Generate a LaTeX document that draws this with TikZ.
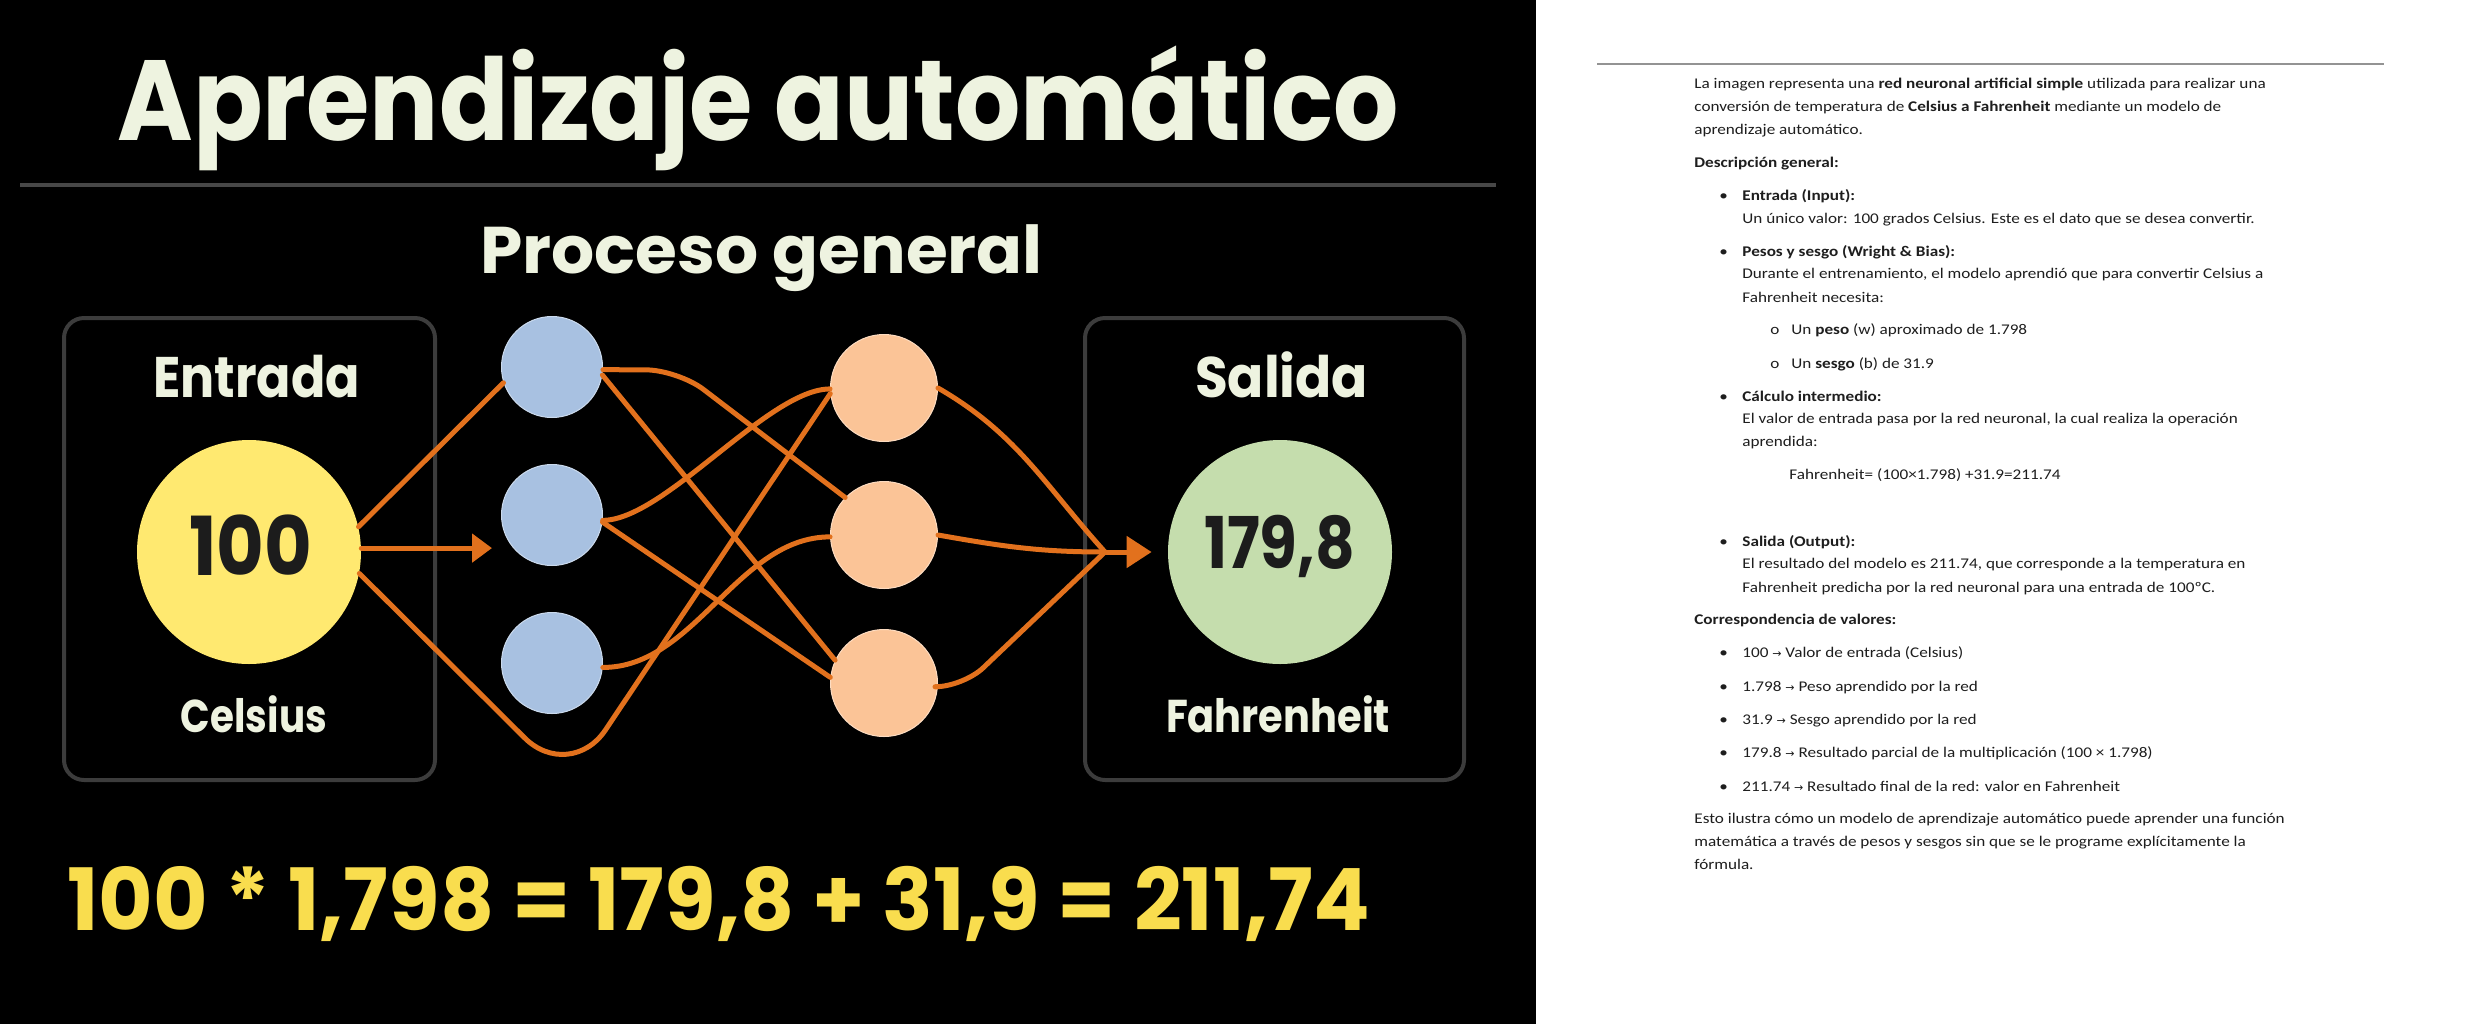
\documentclass[tikz,border=0pt]{standalone}
\usepackage{fontspec}
\usepackage{graphicx}
\setmainfont{Carlito}[FakeStretch=1.16]
\newfontfamily\pop{Poppins}
\newfontfamily\arrfont{DejaVu Sans}
\usetikzlibrary{arrows.meta}
\definecolor{titlec}{HTML}{EEF3E0}
\definecolor{sepc}{HTML}{474747}
\definecolor{boxc}{HTML}{3C3C3C}
\definecolor{yellowc}{HTML}{FFE970}
\definecolor{bluec}{HTML}{A8C1E1}
\definecolor{peachc}{HTML}{FBC497}
\definecolor{greenc}{HTML}{C5DDAD}
\definecolor{wirec}{HTML}{E2711D}
\definecolor{eqc}{HTML}{F9DD4E}
\definecolor{numc}{HTML}{1C1C1C}
\definecolor{bodyc}{HTML}{1E1E1E}
\newcommand{\fitw}[2]{\resizebox{#1}{\height}{#2}}
\newcommand{\ar}{{\arrfont\fontsize{5.5}{6}\selectfont →}}
\begin{document}
\begin{tikzpicture}[x=0.5pt,y=-0.5pt,
  wire/.style={draw=wirec, line width=2.5pt, line cap=round, line join=round},
  neuronb/.style={circle, fill=bluec, draw=bluec!60!white, line width=0.5pt, minimum size=50.5pt, inner sep=0},
  neurono/.style={circle, fill=peachc, draw=peachc!60!white, line width=0.5pt, minimum size=53.5pt, inner sep=0},
  bigc/.style={circle, minimum size=112pt, inner sep=0},
  panel/.style={draw=boxc, line width=2pt, rounded corners=10pt},
  ttl/.style={text=titlec, inner sep=0, anchor=base},
  body/.style={anchor=base west, inner sep=0, text=bodyc, font=\fontsize{7.4}{8}\selectfont}
]
\useasboundingbox (0,0) rectangle (2470,1024);
% backgrounds
\fill[black] (0,0) rectangle (1536,1024);
\fill[white] (1536,0) rectangle (2470,1024);

% title and rule
\node[ttl, font=\pop\bfseries\fontsize{57}{60}\selectfont] (title) at (758,140) {\fitw{640.5pt}{Aprendizaje automático}};
\draw[sepc, line width=2.4pt] (20,185) -- (1496,185);
\node[ttl, font=\pop\bfseries\fontsize{33}{36}\selectfont] (sub) at (761.5,273) {\fitw{281.5pt}{Proceso general}};

% panels
\draw[panel] (64,318) rectangle (435,780);
\draw[panel] (1085,318) rectangle (1464,780);

\node[ttl, font=\pop\bfseries\fontsize{28.6}{30}\selectfont] (entrada) at (256.5,397) {\fitw{103.5pt}{Entrada}};
\node[ttl, font=\pop\bfseries\fontsize{28.6}{30}\selectfont] (salida) at (1281.5,397) {\fitw{86.5pt}{Salida}};
\node[ttl, font=\pop\bfseries\fontsize{23}{25}\selectfont] (celsius) at (254,732) {\fitw{73pt}{Celsius}};
\node[ttl, font=\pop\bfseries\fontsize{23}{25}\selectfont] (fahr) at (1278,732) {\fitw{112pt}{Fahrenheit}};

% big circles
\node[bigc, fill=yellowc] (in) at (249,552) {};
\node[bigc, fill=greenc] (out) at (1280,552) {};
\node[ttl, text=numc, font=\pop\bfseries\fontsize{40.7}{42}\selectfont] (v100) at (250.5,575) {\fitw{61.5pt}{100}};
\node[ttl, text=numc, font=\pop\bfseries\fontsize{35.7}{38}\selectfont] (v179) at (1279.5,568) {\fitw{75.5pt}{179,8}};

% neurons
\node[neuronb] (b1) at (552,367) {};
\node[neuronb] (b2) at (552,515) {};
\node[neuronb] (b3) at (552,663) {};
\node[neurono] (o1) at (884,388) {};
\node[neurono] (o2) at (884,535) {};
\node[neurono] (o3) at (884,683) {};

\coordinate (loopc) at (570,783);
\coordinate (k1) at (678,370);
\coordinate (k3) at (963,687);
\coordinate (M) at (1105,552);

% input connectors
\draw[wire] (in.13) -- (b1.198);
\draw[wire, -{Triangle[length=10pt,width=14pt]}, shorten >=4.5pt] (in.2) -- (in.2 -| b2.west);
\draw[wire, rounded corners=32pt] (in.349) -- (loopc) -- (o1.186);

% hidden connectors
\draw[wire, rounded corners=16pt] (b1.357) -- (k1) -- (o2.136);
\draw[wire] (b1.351) -- (o3.155);
\draw[wire] (b2.354) to[out=0, in=180, looseness=0.6] (o1.181);
\draw[wire] (b2.352) -- (o3.174);
\draw[wire] (b3.355) to[out=0, in=180, looseness=0.9] (o2.182);

% output connectors
\draw[wire] (o1.east) to[out=-30, in=132] (M);
\draw[wire] (o2.east) to[out=-10, in=180] (M);
\draw[wire, rounded corners=14pt] (o3.-4) -- (k3) -- (M);
\draw[wire, -{Triangle[length=12.5pt,width=15.5pt]}, shorten >=8pt] (M) -- (out.west);

% equation
\node[ttl, anchor=base west, text=eqc, font=\pop\bfseries\fontsize{43}{45}\selectfont] (eq) at (67,930) {\fitw{651.5pt}{100 * 1,798 = 179,8 + 31,9 = 211,74}};

% right text panel
\draw[gray!85, line width=1pt] (1597,64) -- (2384,64);
\node[body] (t1) at (1694,88) {La imagen representa una \textbf{red neuronal artificial simple} utilizada para realizar una};
\node[body] (t2) at (1694,111) {conversión de temperatura de \textbf{Celsius a Fahrenheit} mediante un modelo de};
\node[body] (t3) at (1694,134) {aprendizaje automático.};
\node[body] (t4) at (1694,167) {\textbf{Descripción general:}};
\node[body] (d1) at (1719,200) {•};
\node[body] (t5) at (1742,200) {\textbf{Entrada (Input):}};
\node[body] (t6) at (1742,223) {Un único valor: 100 grados Celsius. Este es el dato que se desea convertir.};
\node[body] (d2) at (1719,256) {•};
\node[body] (t7) at (1742,256) {\textbf{Pesos y sesgo (Wright \& Bias):}};
\node[body] (t8) at (1742,278) {Durante el entrenamiento, el modelo aprendió que para convertir Celsius a};
\node[body] (t9) at (1742,302) {Fahrenheit necesita:};
\node[body] (s1) at (1770,334) {o};
\node[body] (t10) at (1791,334) {Un \textbf{peso} (w) aproximado de 1.798};
\node[body] (s2) at (1770,368) {o};
\node[body] (t11) at (1791,368) {Un \textbf{sesgo} (b) de 31.9};
\node[body] (d3) at (1719,401) {•};
\node[body] (t12) at (1742,401) {\textbf{Cálculo intermedio:}};
\node[body] (t13) at (1742,423) {El valor de entrada pasa por la red neuronal, la cual realiza la operación};
\node[body] (t14) at (1742,446) {aprendida:};
\node[body] (t15) at (1789,479) {Fahrenheit= (100×1.798) +31.9=211.74};
\node[body] (d4) at (1719,546) {•};
\node[body] (t16) at (1742,546) {\textbf{Salida (Output):}};
\node[body] (t17) at (1742,568) {El resultado del modelo es 211.74, que corresponde a la temperatura en};
\node[body] (t18) at (1742,592) {Fahrenheit predicha por la red neuronal para una entrada de 100ºC.};
\node[body] (t19) at (1694,624) {\textbf{Correspondencia de valores:}};
\node[body] (d5) at (1719,657) {•};
\node[body] (t20) at (1742,657) {100 \ar{} Valor de entrada (Celsius)};
\node[body] (d6) at (1719,691) {•};
\node[body] (t21) at (1742,691) {1.798 \ar{} Peso aprendido por la red};
\node[body] (d7) at (1719,724) {•};
\node[body] (t22) at (1742,724) {31.9 \ar{} Sesgo aprendido por la red};
\node[body] (d8) at (1719,757) {•};
\node[body] (t23) at (1742,757) {179.8 \ar{} Resultado parcial de la multiplicación (100 × 1.798)};
\node[body] (d9) at (1719,791) {•};
\node[body] (t24) at (1742,791) {211.74 \ar{} Resultado final de la red: valor en Fahrenheit};
\node[body] (t25) at (1694,823) {Esto ilustra cómo un modelo de aprendizaje automático puede aprender una función};
\node[body] (t26) at (1694,846) {matemática a través de pesos y sesgos sin que se le programe explícitamente la};
\node[body] (t27) at (1694,869) {fórmula.};
\end{tikzpicture}
\end{document}
